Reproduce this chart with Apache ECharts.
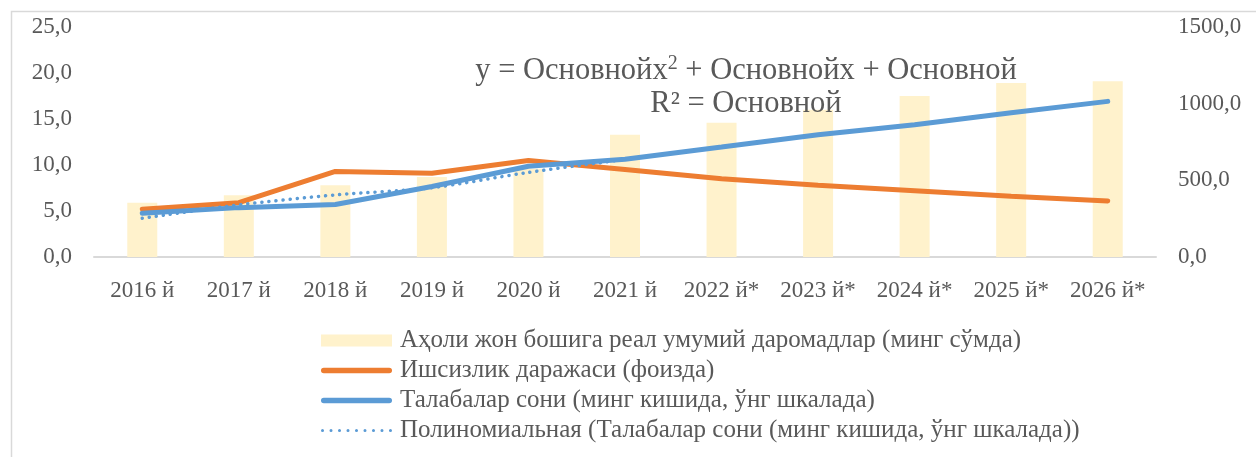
<!DOCTYPE html>
<html>
<head>
<meta charset="utf-8">
<script src="https://cdn.jsdelivr.net/npm/echarts@6/dist/echarts.min.js"></script>
<style>
  html, body { margin: 0; padding: 0; background: #fff; }
  #chart { width: 1256px; height: 457px; }
</style>
</head>
<body>
<div id="chart"></div>
<script>
// categories
const years = ['2016 й', '2017 й', '2018 й', '2019 й', '2020 й', '2021 й',
  '2022 й*', '2023 й*', '2024 й*', '2025 й*', '2026 й*'];
// Аҳоли жон бошига реал умумий даромадлар (минг сўмда), left axis
const income = [5.9, 6.7, 7.8, 8.7, 9.6, 13.3, 14.6, 16.0, 17.5, 18.9, 19.1];
// Ишсизлик даражаси (фоизда), left axis
const unemployment = [5.2, 5.9, 9.3, 9.1, 10.5, 9.5, 8.5, 7.8, 7.2, 6.6, 6.1];
// Талабалар сони (минг кишида), right axis
const students = [285, 322, 342, 460, 592, 638, 717, 797, 863, 941, 1015];
// polynomial trend, visible only over the first years
const trend = [253, 340, 405, 452, 552, 636, null, null, null, null, null];

const names = [
  'Аҳоли жон бошига реал умумий даромадлар (минг сўмда)',
  'Ишсизлик даражаси (фоизда)',
  'Талабалар сони (минг кишида, ўнг шкалада)',
  'Полиномиальная (Талабалар сони (минг кишида, ўнг шкалада))'
];

const font = '"Liberation Serif", "Times New Roman", serif';
const grey = '#595959';
const fmt = v => v.toFixed(1).replace('.', ',');

// legend icons: thick rounded line and a row of dots
const lineIcon = 'path://M2.75,0 L67.25,0 A2.75,2.75 0 0 1 67.25,5.5 L2.75,5.5 A2.75,2.75 0 0 1 2.75,0 Z';
let dots = '';
for (let i = 0; i < 9; i++) {
  const cx = 1.5 + i * 8.4;
  dots += 'M' + (cx - 1.5) + ',1.5 A1.5,1.5 0 1 1 ' + (cx + 1.5) + ',1.5 A1.5,1.5 0 1 1 ' + (cx - 1.5) + ',1.5 Z ';
}
const dotIcon = 'path://' + dots;

var myChart = echarts.init(document.getElementById('chart'));
var option = {
  animation: false,
  textStyle: { fontFamily: font, color: grey },
  grid: { left: 94, right: 100, top: 27, bottom: 200 },
  graphic: [
    {
      type: 'rect', left: 9, top: 9, silent: true,
      shape: { width: 1400, height: 600 },
      style: { fill: 'none', stroke: '#d9d9d9', lineWidth: 1.5 }
    },
    {
      type: 'text', x: 746, y: 87, z: 100,
      style: {
        text: '{a|y = Основнойх}{s|2}{a| + Основнойх + Основной}\n{a|R² = Основной}',
        align: 'center', verticalAlign: 'middle',
        rich: {
          a: { fontFamily: font, fontSize: 30.5, fill: grey, lineHeight: 33 },
          s: { fontFamily: font, fontSize: 20, fill: grey, lineHeight: 33, verticalAlign: 'top', padding: [0, 0, 12, 0] }
        }
      },
      silent: true
    }
  ],
  legend: {
    orient: 'vertical',
    left: 321, top: 328, padding: 0,
    itemWidth: 71, itemHeight: 12, itemGap: 5,
    textStyle: { fontFamily: font, fontSize: 25, color: grey, padding: [0, 0, 0, 3] },
    data: [
      { name: names[0], icon: 'rect' },
      { name: names[1], icon: lineIcon },
      { name: names[2], icon: lineIcon },
      { name: names[3], icon: dotIcon }
    ]
  },
  xAxis: {
    type: 'category',
    data: years,
    axisLine: { lineStyle: { color: '#d9d9d9', width: 2 } },
    axisTick: { show: false },
    axisLabel: { fontFamily: font, fontSize: 23, color: grey, margin: 22, interval: 0 }
  },
  yAxis: [
    {
      type: 'value', min: 0, max: 25, interval: 5,
      splitLine: { show: false },
      axisLine: { show: false },
      axisLabel: { fontFamily: font, fontSize: 23, color: grey, margin: 22, formatter: fmt }
    },
    {
      type: 'value', min: 0, max: 1500, interval: 500,
      splitLine: { show: false },
      axisLine: { show: false },
      axisLabel: { fontFamily: font, fontSize: 23, color: grey, margin: 22, formatter: fmt }
    }
  ],
  series: [
    {
      name: names[0], type: 'bar', data: income, barWidth: 30,
      itemStyle: { color: '#FFF2CC' }
    },
    {
      name: names[1], type: 'line', data: unemployment, symbol: 'none',
      lineStyle: { color: '#ED7D31', width: 5, cap: 'round' },
      itemStyle: { color: '#ED7D31' }
    },
    {
      name: names[3], type: 'line', data: trend, yAxisIndex: 1, symbol: 'none',
      smooth: 0.3,
      lineStyle: { color: '#5B9BD5', width: 3.5, type: [0.1, 7], cap: 'round' },
      itemStyle: { color: '#5B9BD5' }
    },
    {
      name: names[2], type: 'line', data: students, yAxisIndex: 1, symbol: 'none',
      lineStyle: { color: '#5B9BD5', width: 5, cap: 'round' },
      itemStyle: { color: '#5B9BD5' }
    }
  ]
};
option && myChart.setOption(option);
</script>
</body>
</html>
